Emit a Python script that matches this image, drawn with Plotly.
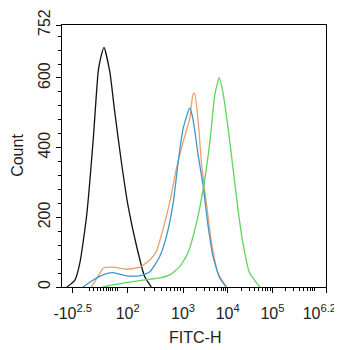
import plotly.graph_objects as go

# x values are in display (logicle-like) units: 3 = 10^3, 4 = 10^4, ...
black_x = [0.40, 0.58, 0.69, 0.84, 0.99, 1.10, 1.16, 1.23, 1.36, 1.47, 1.62, 1.77, 1.96, 2.14, 2.29]
black_y = [0, 20, 69, 203, 425, 618, 660, 688, 618, 503, 358, 232, 117, 30, 0]

orange_x = [0.95, 1.14, 1.21, 1.43, 1.73, 2.03, 2.26, 2.40, 2.55, 2.70, 2.85, 3.00, 3.15, 3.22, 3.26, 3.34, 3.41, 3.52, 3.64, 3.78, 3.97]
orange_y = [0, 40, 54, 57, 51, 57, 78, 102, 165, 242, 339, 416, 483, 551, 556, 474, 358, 242, 126, 40, 0]

blue_x = [0.76, 0.99, 1.21, 1.43, 1.73, 2.03, 2.26, 2.48, 2.63, 2.78, 2.89, 3.00, 3.15, 3.22, 3.34, 3.45, 3.56, 3.67, 3.82, 3.97]
blue_y = [0, 20, 35, 41, 32, 32, 44, 88, 146, 242, 358, 454, 514, 483, 377, 290, 175, 88, 26, 0]

green_x = [1.20, 1.43, 2.10, 2.48, 2.70, 2.93, 3.11, 3.30, 3.45, 3.60, 3.71, 3.81, 3.89, 4.01, 4.12, 4.23, 4.34, 4.49, 4.72]
green_y = [0, 6, 20, 26, 35, 59, 98, 184, 281, 416, 551, 601, 561, 454, 339, 223, 126, 40, 0]

x_tickvals = [0.53, 1.76, 3.0, 4.0, 5.0, 6.2]
x_ticktext = ["-10<sup>2.5</sup>", "10<sup>2</sup>", "10<sup>3</sup>", "10<sup>4</sup>", "10<sup>5</sup>",
              "10<sup>6.2</sup>\u00a0\u00a0\u00a0"]
x_minor = [0.91, 1.0, 1.08, 1.15, 1.22, 1.28, 1.32, 1.37, 1.43, 1.49, 1.54,
           2.13, 2.35, 2.51, 2.63, 2.72, 2.80, 2.88, 2.94,
           3.30, 3.48, 3.60, 3.70, 3.78, 3.85, 3.90, 3.95,
           4.30, 4.48, 4.60, 4.70, 4.78, 4.85, 4.90, 4.95,
           5.30, 5.48, 5.60, 5.70, 5.78, 5.85, 5.90, 5.95]
y_tickvals = [0, 200, 400, 600, 752]
x_title = "FITC-H"
y_title = "Count"

fig = go.Figure()
series = [
    (black_x, black_y, "#111111"),
    (orange_x, orange_y, "#ec9f6e"),
    (blue_x, blue_y, "#3b97cc"),
    (green_x, green_y, "#5cd65c"),
]
for xs, ys, col in series:
    fig.add_trace(go.Scatter(x=xs, y=ys, mode="lines",
                             line=dict(color=col, width=1.3, shape="spline", smoothing=0.5),
                             showlegend=False, hoverinfo="skip"))

# page body has an 8px default margin, so the figure is sized/offset to compensate
fig.update_layout(
    width=334, height=342,
    margin=dict(l=54, r=16, t=17, b=63, autoexpand=False),
    paper_bgcolor="white", plot_bgcolor="white",
    font=dict(family="Liberation Sans, Arial, sans-serif", size=16, color="#222"),
    annotations=[
        dict(text=x_title, xref="paper", yref="paper", x=0.504, y=-0.191,
             xanchor="center", yanchor="middle", showarrow=False, font=dict(size=16)),
        dict(text=y_title, xref="paper", yref="paper", x=-0.167, y=0.504, textangle=-90,
             xanchor="center", yanchor="middle", showarrow=False, font=dict(size=16)),
    ],
)
fig.update_xaxes(
    range=[0.29, 6.2], showgrid=False, zeroline=False, automargin=False,
    showline=True, linecolor="black", linewidth=1, mirror=True,
    ticks="outside", ticklen=5, tickcolor="black",
    tickmode="array", tickvals=x_tickvals, ticktext=x_ticktext,
    ticklabeloverflow="allow", ticklabelstandoff=7,
    minor=dict(tickvals=x_minor, ticks="outside", ticklen=3, tickcolor="black"),
    tickfont=dict(size=16),
)
fig.update_yaxes(
    range=[0, 752], showgrid=False, zeroline=False, automargin=False,
    showline=True, linecolor="black", linewidth=1, mirror=True,
    ticks="outside", ticklen=5, tickcolor="black",
    tickmode="array", tickvals=y_tickvals, tickangle=-90,
    minor=dict(dtick=40, tick0=0, ticks="outside", ticklen=3, tickcolor="black"),
    tickfont=dict(size=16),
)
fig.write_html("out.html")
